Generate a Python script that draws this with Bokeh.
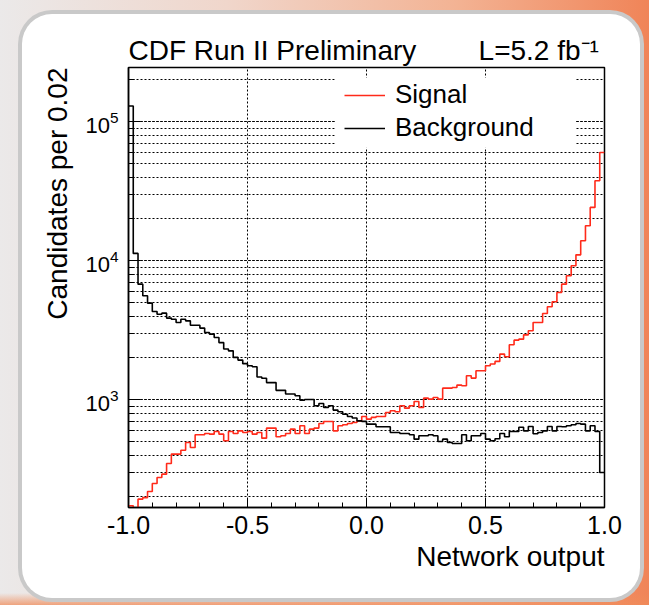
import numpy as np
from bokeh.plotting import figure
from bokeh.models import BoxAnnotation, Legend, LegendItem, FixedTicker, LogTicker, PrintfTickFormatter, Range1d, Title
from bokeh.layouts import column
from bokeh.embed import file_html
from bokeh.resources import INLINE

# ---------------- data ----------------
bin_low, bin_high, n_bins = -1.0, 1.0, 100

signal = [
    173, 140, 193, 198, 219, 250, 276, 292, 348, 407,
    407, 434, 493, 454, 560, 560, 573, 566, 592, 566,
    507, 592, 573, 598, 582, 592, 566, 582, 530, 626,
    626, 542, 551, 573, 615, 573, 650, 573, 615, 626,
    676, 698, 698, 598, 650, 661, 676, 687, 706, 759,
    726, 747, 759, 759, 811, 834, 820, 906, 871, 906,
    973, 881, 1028, 1011, 1040, 1011, 1213, 1213, 1227, 1276,
    1262, 1490, 1433, 1617, 1617, 1758, 1808, 1889, 2133, 2039,
    2488, 2686, 2731, 2934, 3136, 3598, 3598, 4181, 4667, 5070,
    5916, 6792, 7800, 9205, 11040, 13930, 17860, 24210, 37670, 60100,
]

background = [
    130000, 11300, 6790, 5600, 4960, 4320, 4130, 4200, 3870, 3800,
    3600, 3800, 3700, 3440, 3440, 3280, 3050, 2970, 2810, 2580,
    2320, 2250, 2020, 1930, 1820, 1760, 1730, 1460, 1430, 1330,
    1330, 1170, 1170, 1100, 1100, 1070, 995, 1005, 1005, 906,
    940, 881, 906, 843, 820, 788, 759, 740, 706, 700,
    668, 668, 640, 640, 640, 582, 582, 573, 573, 560,
    521, 551, 551, 560, 551, 501, 521, 493, 485, 485,
    560, 507, 551, 551, 573, 521, 507, 525, 573, 542,
    592, 592, 635, 598, 643, 570, 582, 598, 643, 598,
    643, 640, 650, 661, 676, 668, 598, 650, 592, 300,
]

x_ticks = [-1.0, -0.5, 0.0, 0.5, 1.0]
series_names = ["Signal", "Background"]
title_left = "CDF Run II Preliminary"
title_right = "L=5.2 fb\u207b\u00b9"
x_title = "Network output"
y_title = "Candidates per 0.02"

# ---------------- figure ----------------
FONT = "Liberation Sans"
edges = np.linspace(bin_low, bin_high, n_bins + 1)

p = figure(width=618, height=584,
           x_range=Range1d(-1.0, 1.0), y_range=Range1d(168, 245800),
           y_axis_type="log", output_backend="svg", toolbar_location=None,
           min_border_left=106, min_border_right=36,
           min_border_top=53, min_border_bottom=91)
p.border_fill_color = None
p.background_fill_color = "white"
p.outline_line_color = "black"
p.outline_line_width = 1.5
p.margin = (14, 9, 7, 22)
p.styles = {"background-color": "white", "border-radius": "30px",
            "box-shadow": "0 0 0 4px #c9c9c9"}

# title line (left text and luminosity on one row)
p.title.text = title_left + "\u00a0" * 8 + title_right
p.title.align = "left"
p.title.text_font = FONT
p.title.text_font_size = "28px"
p.title.text_font_style = "normal"
p.title.text_color = "black"
p.title.standoff = 4

# grid
p.xgrid.ticker = FixedTicker(ticks=x_ticks)
p.xgrid.grid_line_color = "black"
p.xgrid.grid_line_dash = "2 2"
p.xgrid.grid_line_width = 1
p.ygrid.grid_line_color = "black"
p.ygrid.grid_line_dash = "2 2"
p.ygrid.grid_line_width = 1
p.ygrid.minor_grid_line_color = "black"
p.ygrid.minor_grid_line_dash = "2 2"
p.ygrid.minor_grid_line_width = 1

# axes
p.xaxis.ticker = FixedTicker(ticks=x_ticks, minor_ticks=list(np.round(np.arange(-1.0, 1.0001, 0.1), 2)))
p.xaxis.formatter = PrintfTickFormatter(format="%.1f")
p.yaxis.ticker = LogTicker(num_minor_ticks=10)
for ax in (p.xaxis, p.yaxis):
    ax.axis_line_color = "black"
    ax.axis_line_width = 1.5
    ax.major_tick_line_color = "black"
    ax.minor_tick_line_color = "black"
    ax.major_tick_out = 0
    ax.minor_tick_out = 0
    ax.major_label_text_font = FONT
    ax.major_label_text_color = "black"
p.xaxis.major_tick_in = 9
p.xaxis.minor_tick_in = 5
p.yaxis.major_tick_in = 12
p.yaxis.minor_tick_in = 6
p.xaxis.major_label_text_font_size = "25px"
p.yaxis.major_label_text_font_size = "22px"
p.xaxis.major_label_standoff = 8
p.yaxis.major_label_standoff = 10

# axis titles (aligned to the axis ends, as in the original)
ytitle = Title(text=y_title, align="right", text_font=FONT, text_font_size="28px",
               text_font_style="normal", text_color="black", standoff=19)
p.add_layout(ytitle, "left")
xtitle = Title(text=x_title, align="right", vertical_align="top", text_font=FONT,
               text_font_size="28px", text_font_style="normal", text_color="black",
               standoff=9)
p.add_layout(xtitle, "below")

# legend backdrop (hides the grid behind the legend, as in the original)
p.add_layout(BoxAnnotation(left=-0.133, right=0.88, bottom=65000, top=207000,
                           fill_color="white", fill_alpha=1.0, line_color=None,
                           level="underlay"))

# histograms
sig = p.step(edges, signal + [signal[-1]], mode="after",
             line_color="#ff2a1a", line_width=1.6)
bkg = p.step(edges, background + [background[-1]], mode="after",
             line_color="black", line_width=1.6)

legend = Legend(items=[LegendItem(label=series_names[0], renderers=[sig]),
                       LegendItem(label=series_names[1], renderers=[bkg])],
                location=(216, 364))
legend.background_fill_alpha = 0
legend.border_line_color = None
legend.label_text_font = FONT
legend.label_text_font_size = "26px"
legend.label_text_color = "black"
legend.glyph_width = 41
legend.glyph_height = 30
legend.label_height = 30
legend.label_standoff = 10
legend.spacing = 2
legend.padding = 5
legend.margin = 0
p.add_layout(legend)

outer = column(p, width=649, height=605,
               styles={"background": "linear-gradient(to top, rgba(240,140,90,0.75) 0px, rgba(240,140,90,0) 12px), "
                                     "linear-gradient(to right, #ebe9e9 0%, #f0d6cb 35%, #f3b394 70%, #f08458 100%)"})

open("out.html", "w").write(file_html(outer, INLINE))
